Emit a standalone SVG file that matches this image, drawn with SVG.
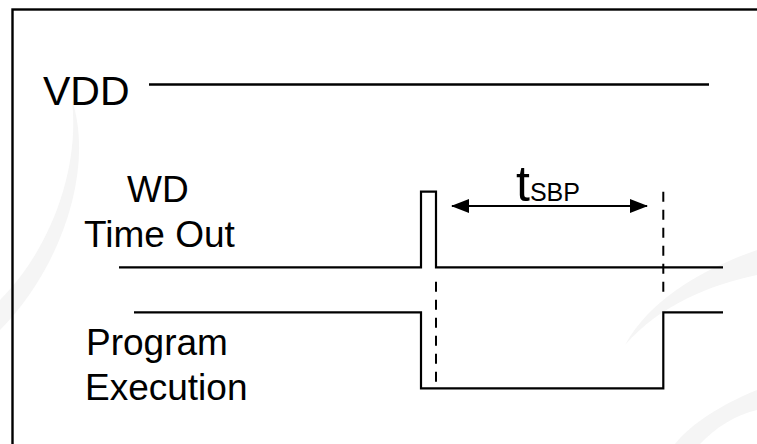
<svg xmlns="http://www.w3.org/2000/svg" width="757" height="444" viewBox="0 0 757 444">
<defs>
<style>
.sig{fill:none;stroke:#000;stroke-width:2.2;stroke-linejoin:miter}
.dash{fill:none;stroke:#000;stroke-width:2;stroke-dasharray:10 8}
.lbl{font-family:"Liberation Sans",Arial,sans-serif;fill:#000}
.wm{fill:#f5f5f5}
</style>
<marker id="ah" viewBox="0 0 18 14" refX="17" refY="7" markerWidth="18" markerHeight="14" markerUnits="userSpaceOnUse" orient="auto-start-reverse">
<path d="M0 0 L18 7 L0 14 Z" fill="#000"/>
</marker>
</defs>
<rect width="757" height="444" fill="#fff"/>
<g id="watermark">
<path class="wm" d="M0 330 C60 270 95 170 72 100 C80 170 50 250 0 300 Z"/>
<path class="wm" d="M757 250 C700 270 650 300 625 345 C660 305 710 285 757 275 Z"/>
<path class="wm" d="M757 390 C720 405 690 425 675 444 L700 444 C715 428 735 415 757 410 Z"/>
</g>
<rect id="frame" x="12.5" y="9.5" width="760" height="450" fill="none" stroke="#000" stroke-width="2.4"/>
<g id="vdd">
<text class="lbl" x="43" y="105" font-size="41">VDD</text>
<line x1="149" y1="84.5" x2="709" y2="84.5" stroke="#000" stroke-width="2.5"/>
</g>
<g id="wd">
<text class="lbl" x="127" y="201.7" font-size="37">WD</text>
<text class="lbl" x="84" y="246.7" font-size="37">Time Out</text>
</g>
<g id="prog">
<text class="lbl" x="86" y="355" font-size="37">Program</text>
<text class="lbl" x="85" y="400" font-size="37">Execution</text>
</g>
<g id="tsbp">
<text class="lbl" x="516" y="200.7" font-size="50">t<tspan font-size="25">SBP</tspan></text>
</g>
<g id="connectors">
<path class="sig" d="M119 267.3 H421 V191.7 H436 V267.3 H723"/>
<path class="sig" d="M134 312.3 H421 V388.3 H663.3 V312.3 H723"/>
<line class="dash" x1="436" y1="281.7" x2="436" y2="382"/>
<line class="dash" x1="663.3" y1="191.7" x2="663.3" y2="292"/>
<line x1="452" y1="206" x2="647" y2="206" stroke="#000" stroke-width="2.2" marker-start="url(#ah)" marker-end="url(#ah)"/>
</g>
</svg>
